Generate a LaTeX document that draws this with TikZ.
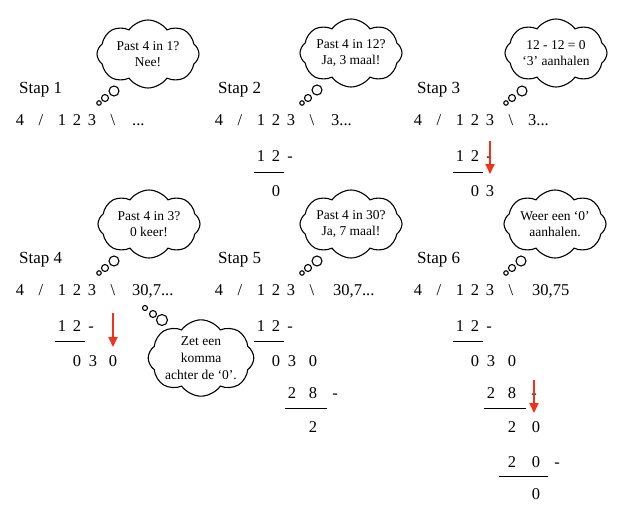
\documentclass[tikz,border=0pt]{standalone}
\usepackage{fontspec}
\setmainfont{Liberation Serif}
\usetikzlibrary{shapes.symbols,arrows.meta}

\definecolor{pijlrood}{RGB}{245,50,25}

\tikzstyle{stap} = [font=\fontsize{17}{20}\selectfont, anchor=base west, inner sep=0pt]
\tikzstyle{cijfer} = [font=\fontsize{16.5}{19}\selectfont, anchor=base, inner sep=0pt]
\tikzstyle{quotient} = [cijfer, anchor=base west]
\tikzstyle{wolk} = [cloud, cloud puffs=8, cloud puff arc=110, cloud ignores aspect, draw=black, line width=1.1pt, fill=white, align=center, font=\fontsize{13.5}{16}\selectfont, inner sep=0pt, minimum width=102pt, minimum height=68pt]
\tikzstyle{bel} = [circle, draw=black, line width=1.1pt, fill=white, inner sep=0pt]
\tikzstyle{streep} = [line width=1pt]
\tikzstyle{pijl} = [draw=pijlrood, line width=2pt, -{Triangle[width=9pt,length=10pt]}]

\begin{document}
\begin{tikzpicture}[x=1pt, y=-1pt]
	\useasboundingbox (0,0) rectangle (637,519);

	% Stap 1
	\begin{scope}[shift={(0,0)}]
	\node [stap] (stap1) at (19,93) {Stap 1};
	\node [cijfer] (deler1) at (20,125.5) {4};
	\node [cijfer] (slash1) at (41,125.5) {/};
	\node [cijfer] (een1) at (62,125.5) {1};
	\node [cijfer] (twee1) at (77,125.5) {2};
	\node [cijfer] (drie1) at (92,125.5) {3};
	\node [cijfer] (bslash1) at (113,125.5) {\textbackslash};
	\node [quotient] (uitkomst1) at (132,125.5) {...};
	\node [wolk] (wolk1) at (148,54) {Past 4 in 1?\\Nee!};
	\node [bel, minimum size=10pt] (bel1a) at (114,91) {};
	\node [bel, minimum size=7pt] (bel1b) at (105,98) {};
	\node [bel, minimum size=4.5pt] (bel1c) at (99,103) {};
	\end{scope}

	% Stap 2
	\begin{scope}[shift={(199,0)}]
	\node [stap] (stap2) at (19,93) {Stap 2};
	\node [cijfer] (deler2) at (20,125.5) {4};
	\node [cijfer] (slash2) at (41,125.5) {/};
	\node [cijfer] (een2) at (62,125.5) {1};
	\node [cijfer] (twee2) at (77,125.5) {2};
	\node [cijfer] (drie2) at (92,125.5) {3};
	\node [cijfer] (bslash2) at (113,125.5) {\textbackslash};
	\node [quotient] (uitkomst2) at (132,125.5) {3...};
	\node [cijfer] (aftrekA2) at (62,161) {1};
	\node [cijfer] (aftrekB2) at (77,161) {2};
	\node [cijfer] (min2) at (91,161) {-};
	\coordinate (streep2a) at (55,172);
	\coordinate (streep2b) at (85,172);
	\draw [streep] (streep2a) -- (streep2b);
	\node [cijfer] (rest2) at (77,196) {0};
	\node [wolk] (wolk2) at (152,53) {Past 4 in 12?\\Ja, 3 maal!};
	\node [bel, minimum size=10pt] (bel2a) at (118,90) {};
	\node [bel, minimum size=7pt] (bel2b) at (109,98) {};
	\node [bel, minimum size=4.5pt] (bel2c) at (103,103) {};
	\end{scope}

	% Stap 3
	\begin{scope}[shift={(398,0)}]
	\node [stap] (stap3) at (19,93) {Stap 3};
	\node [cijfer] (deler3) at (20,125.5) {4};
	\node [cijfer] (slash3) at (41,125.5) {/};
	\node [cijfer] (een3) at (62,125.5) {1};
	\node [cijfer] (twee3) at (77,125.5) {2};
	\node [cijfer] (drie3) at (92,125.5) {3};
	\node [cijfer] (bslash3) at (113,125.5) {\textbackslash};
	\node [quotient] (uitkomst3) at (130,125.5) {3...};
	\node [cijfer] (aftrekA3) at (62,161) {1};
	\node [cijfer] (aftrekB3) at (77,161) {2};
	\node [cijfer] (min3) at (91,161) {-};
	\coordinate (streep3a) at (55,172);
	\coordinate (streep3b) at (85,172);
	\draw [streep] (streep3a) -- (streep3b);
	\node [cijfer] (restA3) at (77,196) {0};
	\node [cijfer] (restB3) at (92,196) {3};
	\coordinate (pijl3a) at (92,141);
	\coordinate (pijl3b) at (92,174);
	\draw [pijl] (pijl3a) -- (pijl3b);
	\node [wolk] (wolk3) at (158,53) {12 - 12 = 0\\`3' aanhalen};
	\node [bel, minimum size=10pt] (bel3a) at (124,91) {};
	\node [bel, minimum size=7pt] (bel3b) at (114,98) {};
	\node [bel, minimum size=4.5pt] (bel3c) at (108,103) {};
	\end{scope}

	% Stap 4
	\begin{scope}[shift={(0,170)}]
	\node [stap] (stap4) at (19,93) {Stap 4};
	\node [cijfer] (deler4) at (20,125.5) {4};
	\node [cijfer] (slash4) at (41,125.5) {/};
	\node [cijfer] (een4) at (62,125.5) {1};
	\node [cijfer] (twee4) at (77,125.5) {2};
	\node [cijfer] (drie4) at (92,125.5) {3};
	\node [cijfer] (bslash4) at (113,125.5) {\textbackslash};
	\node [quotient] (uitkomst4) at (132,125.5) {30,7...};
	\node [cijfer] (aftrekA4) at (62,161) {1};
	\node [cijfer] (aftrekB4) at (77,161) {2};
	\node [cijfer] (min4) at (91,161) {-};
	\coordinate (streep4a) at (55,171);
	\coordinate (streep4b) at (85,171);
	\draw [streep] (streep4a) -- (streep4b);
	\node [cijfer] (restA4) at (77,196) {0};
	\node [cijfer] (restB4) at (93,196) {3};
	\node [cijfer] (restC4) at (113,196) {0};
	\coordinate (pijl4a) at (113,143);
	\coordinate (pijl4b) at (113,177);
	\draw [pijl] (pijl4a) -- (pijl4b);
	\node [wolk] (wolk4) at (149,54) {Past 4 in 3?\\0 keer!};
	\node [bel, minimum size=10pt] (bel4a) at (114,91) {};
	\node [bel, minimum size=7pt] (bel4b) at (105,98) {};
	\node [bel, minimum size=4.5pt] (bel4c) at (99,103) {};
	% komma
	\node [wolk, font=\fontsize{13.5}{17}\selectfont, minimum width=98pt] (wolk7) at (201,188) {Zet een\\komma\\achter de `0'.};
	\node [bel, minimum size=11pt] (bel7a) at (162,150) {};
	\node [bel, minimum size=7pt] (bel7b) at (153,144) {};
	\node [bel, minimum size=5pt] (bel7c) at (145,138) {};
	\end{scope}

	% Stap 5
	\begin{scope}[shift={(199,170)}]
	\node [stap] (stap5) at (19,93) {Stap 5};
	\node [cijfer] (deler5) at (20,125.5) {4};
	\node [cijfer] (slash5) at (41,125.5) {/};
	\node [cijfer] (een5) at (62,125.5) {1};
	\node [cijfer] (twee5) at (77,125.5) {2};
	\node [cijfer] (drie5) at (92,125.5) {3};
	\node [cijfer] (bslash5) at (113,125.5) {\textbackslash};
	\node [quotient] (uitkomst5) at (134,125.5) {30,7...};
	\node [cijfer] (aftrekA5) at (62,161) {1};
	\node [cijfer] (aftrekB5) at (77,161) {2};
	\node [cijfer] (min5) at (91,161) {-};
	\coordinate (streep5a) at (55,171);
	\coordinate (streep5b) at (85,171);
	\draw [streep] (streep5a) -- (streep5b);
	\node [cijfer] (restA5) at (77,196) {0};
	\node [cijfer] (restB5) at (93,196) {3};
	\node [cijfer] (restC5) at (114,196) {0};
	\node [cijfer] (aftrekC5) at (93,228) {2};
	\node [cijfer] (aftrekD5) at (114,228) {8};
	\node [cijfer] (minB5) at (136,228) {-};
	\coordinate (streep5c) at (86,238);
	\coordinate (streep5d) at (128,238);
	\draw [streep] (streep5c) -- (streep5d);
	\node [cijfer] (restD5) at (114,262) {2};
	\node [wolk] (wolk5) at (152,54) {Past 4 in 30?\\Ja, 7 maal!};
	\node [bel, minimum size=10pt] (bel5a) at (118,91) {};
	\node [bel, minimum size=7pt] (bel5b) at (109,98) {};
	\node [bel, minimum size=4.5pt] (bel5c) at (103,103) {};
	\end{scope}

	% Stap 6
	\begin{scope}[shift={(398,170)}]
	\node [stap] (stap6) at (19,93) {Stap 6};
	\node [cijfer] (deler6) at (20,125.5) {4};
	\node [cijfer] (slash6) at (41,125.5) {/};
	\node [cijfer] (een6) at (62,125.5) {1};
	\node [cijfer] (twee6) at (77,125.5) {2};
	\node [cijfer] (drie6) at (92,125.5) {3};
	\node [cijfer] (bslash6) at (113,125.5) {\textbackslash};
	\node [quotient] (uitkomst6) at (134,125.5) {30,75};
	\node [cijfer] (aftrekA6) at (62,161) {1};
	\node [cijfer] (aftrekB6) at (77,161) {2};
	\node [cijfer] (min6) at (91,161) {-};
	\coordinate (streep6a) at (55,171);
	\coordinate (streep6b) at (85,171);
	\draw [streep] (streep6a) -- (streep6b);
	\node [cijfer] (restA6) at (77,196) {0};
	\node [cijfer] (restB6) at (93,196) {3};
	\node [cijfer] (restC6) at (114,196) {0};
	\node [cijfer] (aftrekC6) at (93,228) {2};
	\node [cijfer] (aftrekD6) at (114,228) {8};
	\node [cijfer] (minB6) at (136,228) {-};
	\coordinate (streep6c) at (86,238);
	\coordinate (streep6d) at (128,238);
	\draw [streep] (streep6c) -- (streep6d);
	\node [cijfer] (restD6) at (114,262) {2};
	\node [cijfer] (restE6) at (138,262) {0};
	\node [cijfer] (aftrekE6) at (114,297) {2};
	\node [cijfer] (aftrekF6) at (138,297) {0};
	\node [cijfer] (minC6) at (159,297) {-};
	\coordinate (streep6e) at (101,306);
	\coordinate (streep6f) at (150,306);
	\draw [streep] (streep6e) -- (streep6f);
	\node [cijfer] (restF6) at (138,329) {0};
	\coordinate (pijl6a) at (136,210);
	\coordinate (pijl6b) at (136,243);
	\draw [pijl] (pijl6a) -- (pijl6b);
	\node [wolk] (wolk6) at (157,54) {Weer een `0'\\aanhalen.};
	\node [bel, minimum size=10pt] (bel6a) at (123,91) {};
	\node [bel, minimum size=7pt] (bel6b) at (114,98) {};
	\node [bel, minimum size=4.5pt] (bel6c) at (108,103) {};
	\end{scope}
\end{tikzpicture}
\end{document}
